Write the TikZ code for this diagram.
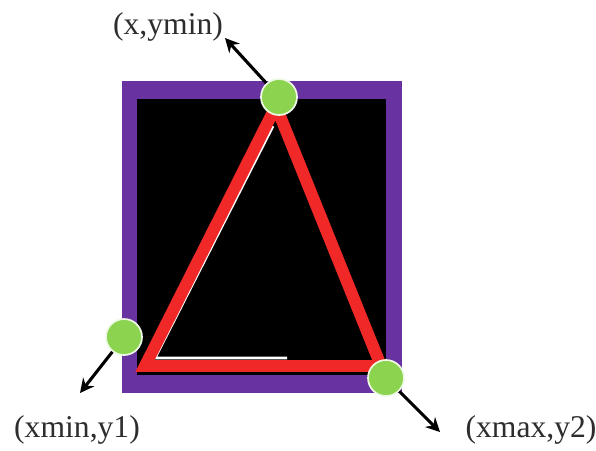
\documentclass[tikz,border=0pt]{standalone}
\usepackage{fontspec}
\setmainfont{Liberation Serif}
\usepackage{xcolor}
\usetikzlibrary{arrows.meta}
\definecolor{boxpurple}{RGB}{104,50,160}
\definecolor{edgered}{RGB}{240,40,40}
\definecolor{pointgreen}{RGB}{140,212,80}
\definecolor{labelgray}{RGB}{45,45,45}
\tikzset{
  corner/.style={circle, fill=pointgreen, draw=white!85!pointgreen,
    line width=1.2pt, minimum size=0.9cm, inner sep=0pt},
  coordlabel/.style={text=labelgray, font=\fontsize{22.5}{27}\selectfont, inner sep=0pt},
  pointer/.style={draw=black, line width=2.2pt, -{Stealth[length=10pt,width=10pt]}},
  edge line/.style={draw=edgered, line width=8.5pt, line join=miter},
}

\begin{document}
\begin{tikzpicture}[x=0.025cm, y=-0.025cm]
  \useasboundingbox (0,0) rectangle (596,450);

  % frame
  \fill[boxpurple] (122,81) rectangle (402,393);
  \fill[black] (137,99) rectangle (386,375);

  % triangle
  \coordinate (apex) at (276,106);
  \coordinate (bl)   at (145,366);
  \coordinate (br)   at (381,366);
  \draw[white, line width=2pt] (273,126) -- (155,358) -- (287,358);
  \draw[edge line] (apex) -- (bl) -- (br) -- cycle;

  \node[corner] (ptTop)   at (279,97)  {};
  \node[corner] (ptLeft)  at (124,337) {};
  \node[corner] (ptRight) at (386,378) {};

  \node[coordlabel] (lblTop)   at (168,27)  {(x,ymin)};
  \node[coordlabel] (lblLeft)  at (77,430)  {(xmin,y1)};
  \node[coordlabel] (lblRight) at (531,430) {(xmax,y2)};

  \coordinate (tipTop)   at (225,38);
  \coordinate (tipLeft)  at (80,393);
  \coordinate (tipRight) at (440,432);

  \draw[pointer] (ptTop)   -- (tipTop);
  \draw[pointer] (ptLeft)  -- (tipLeft);
  \draw[pointer] (ptRight) -- (tipRight);
\end{tikzpicture}
\end{document}
